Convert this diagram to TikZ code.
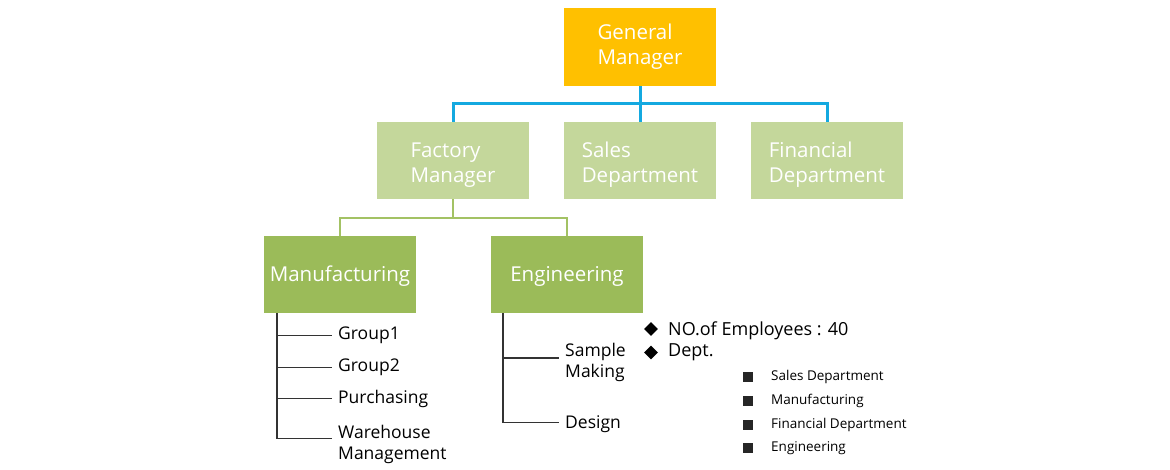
\documentclass[tikz,border=0pt]{standalone}
\usepackage{fontspec}
\setmainfont{Open Sans}
\usetikzlibrary{shapes.geometric}
\definecolor{gmorange}{HTML}{FFC000}
\definecolor{lightgrn}{HTML}{C4D79B}
\definecolor{darkgrn}{HTML}{9BBB59}
\definecolor{linegrn}{HTML}{A3C264}
\definecolor{lineblue}{HTML}{14A9E0}
\definecolor{linedark}{HTML}{333333}
\tikzset{
  box/.style={minimum width=152pt, minimum height=77pt, inner sep=0pt, text=white, align=left,
    font=\fontsize{20.5}{25}\selectfont},
  gmbox/.style={box, fill=gmorange, minimum height=78pt},
  lbox/.style={box, fill=lightgrn, execute at begin node={\rule{0pt}{48pt}}},
  dbox/.style={box, fill=darkgrn, execute at begin node={\rule{0pt}{19pt}}},
  blueline/.style={draw=lineblue, line width=3pt},
  grnline/.style={draw=linegrn, line width=2.5pt},
  darkline/.style={draw=linedark, line width=1.4pt},
  sublabel/.style={anchor=west, inner sep=0pt, align=left, text=black,
    font=\fontsize{17.5}{21}\selectfont},
  bultext/.style={anchor=west, inner sep=0pt, text=black, font=\fontsize{18}{21}\selectfont},
  smalltext/.style={anchor=west, inner sep=0pt, text=black, font=\fontsize{13.5}{16}\selectfont},
  diambul/.style={diamond, fill=black, inner sep=0pt, minimum size=14pt},
  sqbul/.style={rectangle, fill=black!85, inner sep=0pt, minimum size=10pt},
}
\begin{document}
\begin{tikzpicture}[x=1pt, y=-1pt]
\useasboundingbox (0,0) rectangle (1170,470);
% boxes
\node[gmbox] (gm) at (640,47) {General\\Manager};
\node[lbox] (fm) at (453,160.5) {Factory\\Manager};
\node[lbox] (sd) at (640,160.5) {Sales\\Department};
\node[lbox] (fd) at (827,160.5) {Financial\\Department};
\node[dbox] (mf) at (340,274.5) {Manufacturing};
\node[dbox] (en) at (567,274.5) {Engineering};
% blue connectors
\coordinate (bus1) at (640,104);
\draw[blueline] (gm.south) -- (sd.north);
\draw[blueline] (fm.north) |- (bus1) -| (fd.north);
% green connectors
\coordinate (bus2) at (453,218);
\draw[grnline] (fm.south) -- (bus2);
\draw[grnline] (mf.north) |- (bus2) -| (en.north);
% manufacturing sub list
\node[sublabel] (g1) at (338,335.5) {Group1};
\node[sublabel] (g2) at (338,367.5) {Group2};
\node[sublabel] (pu) at (338,398.5) {Purchasing};
\node[sublabel] (wm) at (338,444.5) {Warehouse\\Management};
\coordinate (mtop) at ([xshift=13pt]mf.south west);
\coordinate (mend) at ([xshift=-6pt,yshift=6pt]wm.west);
\draw[darkline] (mtop) |- (mend);
\draw[darkline] (mtop |- g1.west) -- ([xshift=-6pt]g1.west);
\draw[darkline] (mtop |- g2.west) -- ([xshift=-6pt]g2.west);
\draw[darkline] (mtop |- pu.west) -- ([xshift=-6pt]pu.west);
% engineering sub list
\node[sublabel] (sm) at (565,362) {Sample\\Making};
\node[sublabel] (de) at (565,424) {Design};
\coordinate (etop) at ([xshift=12pt]en.south west);
\draw[darkline] (etop) |- ([xshift=-6pt,yshift=1.5pt]de.west);
\draw[darkline] (etop |- 0,358) -- ([xshift=-6pt,yshift=4pt]sm.west);
% bullets
\node[diambul] (d1) at (651,329) {};
\node[diambul] (d2) at (651,352.5) {};
\node[bultext] (t1) at (668,331) {NO.of Employees : 40};
\node[bultext] (t2) at (668,352.5) {Dept.};
\node[sqbul] (s1) at (748,377) {};
\node[sqbul] (s2) at (748,400.5) {};
\node[sqbul] (s3) at (748,424.5) {};
\node[sqbul] (s4) at (748,448) {};
\node[smalltext] (u1) at (771,377) {Sales Department};
\node[smalltext] (u2) at (771,400.5) {Manufacturing};
\node[smalltext] (u3) at (771,424.5) {Financial Department};
\node[smalltext] (u4) at (771,448) {Engineering};
\end{tikzpicture}
\end{document}
